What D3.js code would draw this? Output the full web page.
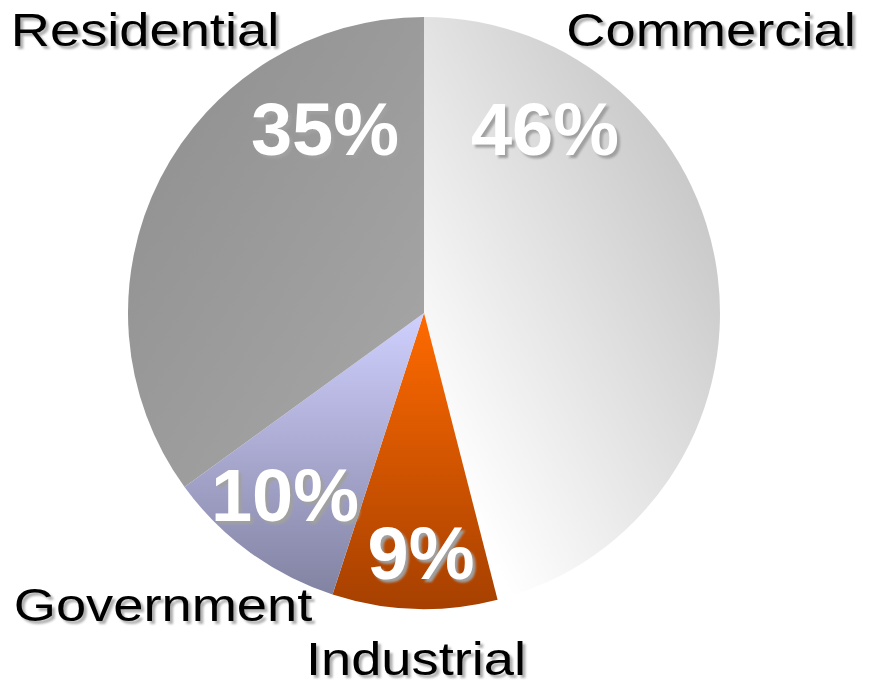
<!DOCTYPE html>
<html>
<head>
<meta charset="UTF-8">
<title>Sector share</title>
<script src="https://cdn.jsdelivr.net/npm/d3@7"></script>
<style>
body { margin: 0; background: #fff; }
svg { display: block; font-family: "Liberation Sans", Arial, sans-serif; }
</style>
</head>
<body>
<svg id="chart" width="872" height="685"></svg>
<script>
// data
var categories = ["Commercial", "Industrial", "Government", "Residential"];
var values = [46, 9, 10, 35];
var pctLabels = ["46%", "9%", "10%", "35%"];

// layout (hand placed, like the original slide)
var cx = 424, cy = 313, radius = 296;
var pctPos = [[545, 155], [421, 579], [285, 521], [325, 155]];
var namePos = [[711, 46], [416, 675], [163, 621], [145, 46]];
var stretch = 1.18; // slide text is a bit wider than plain Arial
var grads = [
	{x1: 0.15, y1: 0.85, x2: 0.85, y2: 0.15, c1: "#ffffff", c2: "#c6c6c6"},
	{x1: 0, y1: 0, x2: 0, y2: 1, c1: "#ff6a00", c2: "#a64000"},
	{x1: 0, y1: 0, x2: 0, y2: 1, c1: "#d0d0ff", c2: "#8282a2"},
	{x1: 0, y1: 0, x2: 1, y2: 1, c1: "#8e8e8e", c2: "#a8a8a8"}
];

var svg = d3.select("#chart");
var defs = svg.append("defs");
grads.forEach(function(g, i) {
	var lg = defs.append("linearGradient").attr("id", "g" + i)
		.attr("x1", g.x1).attr("y1", g.y1).attr("x2", g.x2).attr("y2", g.y2);
	lg.append("stop").attr("offset", 0).attr("stop-color", g.c1);
	lg.append("stop").attr("offset", 1).attr("stop-color", g.c2);
});
defs.append("filter").attr("id", "soft")
	.append("feGaussianBlur").attr("stdDeviation", 0.8);

var pie = d3.pie().sort(null).value(function(d) { return d; });
var arc = d3.arc().innerRadius(0).outerRadius(radius);

var g = svg.append("g").attr("transform", "translate(" + cx + "," + cy + ")");
g.selectAll("path").data(pie(values)).enter().append("path")
	.attr("d", arc)
	.attr("fill", function(d, i) { return "url(#g" + i + ")"; });

// text with a grey drop shadow, sx = horizontal stretch
function shadowText(x, y, txt, size, weight, fill, shadow, sx) {
	var t = svg.append("g").attr("transform", "translate(" + x + "," + y + ") scale(" + sx + ",1)");
	t.append("text").attr("x", 3 / sx).attr("y", 3).attr("text-anchor", "middle")
		.attr("font-size", size).attr("font-weight", weight).attr("fill", shadow)
		.attr("filter", "url(#soft)").text(txt);
	t.append("text").attr("x", 0).attr("y", 0).attr("text-anchor", "middle")
		.attr("font-size", size).attr("font-weight", weight).attr("fill", fill).text(txt);
}

pctLabels.forEach(function(t, i) {
	shadowText(pctPos[i][0], pctPos[i][1], t, 74, "bold", "#ffffff", "#a0a0a0", 1);
});
categories.forEach(function(c, i) {
	shadowText(namePos[i][0], namePos[i][1], c, 46, "normal", "#000000", "#b0b0b0", stretch);
});
</script>
</body>
</html>
